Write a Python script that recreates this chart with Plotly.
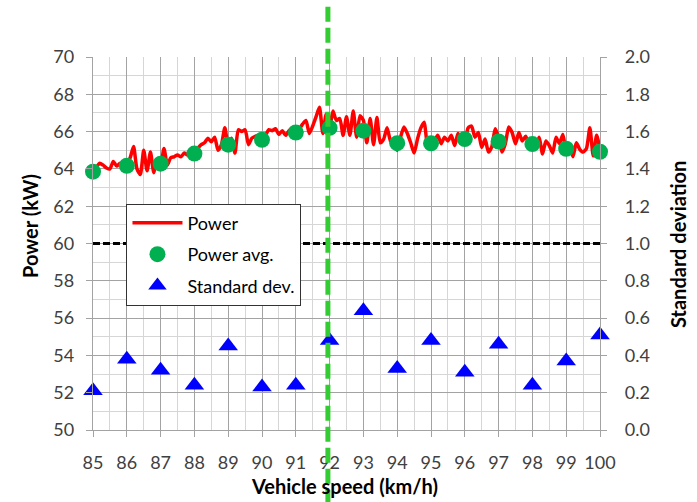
import plotly.graph_objects as go

# ---------------- data ----------------
speed_ticks = list(range(85, 101))

# Power avg. (kW) at each integer speed
power_avg = [63.85, 64.17, 64.28, 64.82, 65.30, 65.56, 65.95, 66.20,
             66.05, 65.38, 65.37, 65.60, 65.47, 65.33, 65.08, 64.92]

# Standard deviation at each integer speed (right axis)
std_dev = [0.21, 0.38, 0.32, 0.24, 0.45, 0.23, 0.24, 0.48,
           0.64, 0.33, 0.48, 0.31, 0.46, 0.24, 0.37, 0.51]

# Instantaneous power (kW), sampled every 0.1 km/h from 85.0 to 100.0
power_85 = [63.95, 64.10, 64.30, 64.20, 64.05, 64.00, 64.40, 64.15, 64.30, 64.10]
power_86 = [64.20, 64.60, 65.20, 64.00, 63.70, 65.00, 63.90, 64.90, 63.80, 64.50]
power_87 = [64.20, 65.10, 64.20, 64.60, 64.65, 64.75, 64.65, 64.85, 64.75, 64.95]
power_88 = [64.85, 65.10, 65.30, 65.40, 65.65, 65.45, 65.70, 65.00, 65.30, 66.20]
power_89 = [65.30, 65.65, 64.85, 66.10, 66.00, 66.10, 65.30, 65.65, 65.75, 65.80]
power_90 = [65.70, 65.80, 66.10, 66.05, 66.15, 65.85, 66.05, 65.80, 66.05, 66.20]
power_91 = [66.25, 66.15, 66.40, 66.60, 65.90, 66.30, 66.80, 67.30, 65.90, 66.95]
power_92 = [66.20, 67.10, 66.60, 66.70, 65.80, 66.80, 65.80, 67.10, 65.70, 66.85]
power_93 = [66.60, 65.40, 66.70, 65.30, 66.75, 65.40, 65.60, 66.20, 65.50, 65.30]
power_94 = [65.00, 65.70, 66.25, 65.90, 65.40, 64.85, 65.60, 66.20, 66.50, 65.30]
power_95 = [65.30, 65.50, 65.80, 65.35, 65.70, 65.50, 65.80, 65.25, 65.90, 65.60]
power_96 = [65.55, 66.20, 66.30, 65.70, 65.95, 65.15, 65.60, 64.90, 65.20, 66.15]
power_97 = [65.70, 64.90, 65.35, 66.25, 65.95, 65.35, 65.95, 65.50, 65.75, 65.35]
power_98 = [65.35, 65.20, 65.70, 64.80, 65.50, 65.25, 64.85, 65.70, 65.35, 65.85]
power_99 = [65.00, 65.25, 64.65, 65.40, 65.05, 64.90, 65.10, 66.20, 64.70, 65.80]
power_100 = [65.05]

power_inst = (power_85 + power_86 + power_87 + power_88 + power_89 + power_90 +
              power_91 + power_92 + power_93 + power_94 + power_95 + power_96 +
              power_97 + power_98 + power_99 + power_100)
power_speed = [round(85 + i / 10, 1) for i in range(len(power_inst))]

threshold_power = 60          # black dashed reference (kW)
marker_speed = 91.95          # green dashed vertical reference

y_ticks = list(range(50, 71, 2))
y2_ticks = [round(0.2 * i, 1) for i in range(11)]

# ---------------- figure ----------------
FONT = "Lato, 'Noto Sans', sans-serif"
TICK_COLOR = "#404040"
MAJOR = "#a3a3a3"
MINOR = "#d6d6d6"

fig = go.Figure()

fig.add_trace(go.Scatter(
    x=power_speed, y=power_inst, mode="lines", name="Power",
    line=dict(color="#ff0000", width=3.5, shape="spline", smoothing=0.6),
    legendgroup="a", cliponaxis=False))

fig.add_trace(go.Scatter(
    x=speed_ticks, y=power_avg, mode="markers", name="Power avg.",
    marker=dict(symbol="circle", size=16, color="#00b050"),
    legendgroup="b", cliponaxis=False))

fig.add_trace(go.Scatter(
    x=speed_ticks, y=std_dev, mode="markers", name="Standard dev.", yaxis="y2",
    marker=dict(symbol="triangle-up", size=17, color="#0000ff"),
    legendgroup="c", cliponaxis=False))

fig.add_trace(go.Scatter(
    x=[speed_ticks[0], speed_ticks[-1]], y=[threshold_power, threshold_power],
    mode="lines", line=dict(color="#000000", width=3, dash="7px,3px"),
    showlegend=False, hoverinfo="skip"))

fig.add_shape(type="line", xref="x", yref="paper",
              x0=marker_speed, x1=marker_speed, y0=1.135, y1=-0.2,
              line=dict(color="#33cc33", width=5, dash="15px,6px"), layer="above")

fig.update_layout(
    width=697, height=502,
    margin=dict(l=93, r=97, t=57, b=72),
    paper_bgcolor="white", plot_bgcolor="white",
    font=dict(family=FONT, size=18, color=TICK_COLOR),
    showlegend=True,
    legend=dict(
        x=0.066, y=0.607, xanchor="left", yanchor="top",
        bgcolor="white", bordercolor="#333333", borderwidth=1,
        font=dict(family=FONT, size=18, color="#000000"),
        tracegroupgap=5, itemwidth=50),
    xaxis=dict(
        range=[85, 100], tickvals=speed_ticks, ticktext=[str(v) for v in speed_ticks],
        showgrid=True, gridcolor=MAJOR, gridwidth=1.3,
        minor=dict(dtick=0.5, showgrid=True, gridcolor=MINOR, gridwidth=1, ticks=""),
        ticks="outside", ticklen=6, tickcolor=MAJOR, ticklabelstandoff=10,
        showline=True, linecolor=MAJOR, linewidth=1.3,
        zeroline=False, tickfont=dict(size=18, color=TICK_COLOR)),
    yaxis=dict(
        range=[50, 70], tickvals=y_ticks,
        showgrid=True, gridcolor=MAJOR, gridwidth=1.3,
        minor=dict(dtick=1, showgrid=True, gridcolor=MINOR, gridwidth=1, ticks=""),
        ticks="outside", ticklen=6, tickcolor=MAJOR, ticklabelstandoff=8,
        showline=True, linecolor=MAJOR, linewidth=1.3,
        zeroline=False, tickfont=dict(size=18, color=TICK_COLOR)),
    yaxis2=dict(
        range=[0, 2], tickvals=y2_ticks, tickformat=".1f",
        overlaying="y", side="right", showgrid=False,
        ticks="outside", ticklen=6, tickcolor=MAJOR, ticklabelstandoff=14,
        showline=True, linecolor=MAJOR, linewidth=1.3,
        zeroline=False, tickfont=dict(size=18, color=TICK_COLOR)),
)

TITLE_FONT = dict(family=FONT, size=20, color="#000000")
fig.add_annotation(text="<b>Power (kW)</b>", xref="paper", yref="paper",
                   x=-63 / 507, y=(430 - 226) / 373, textangle=-90,
                   showarrow=False, font=TITLE_FONT, xanchor="center", yanchor="middle")
fig.add_annotation(text="<b>Standard deviation</b>", xref="paper", yref="paper",
                   x=(678 - 93) / 507, y=(430 - 245) / 373, textangle=-90,
                   showarrow=False, font=TITLE_FONT, xanchor="center", yanchor="middle")
fig.add_annotation(text="<b>Vehicle speed (km/h)</b>", xref="paper", yref="paper",
                   x=(344 - 93) / 507, y=-(486 - 430) / 373,
                   showarrow=False, font=TITLE_FONT, xanchor="center", yanchor="middle")

fig.write_html("out.html")
